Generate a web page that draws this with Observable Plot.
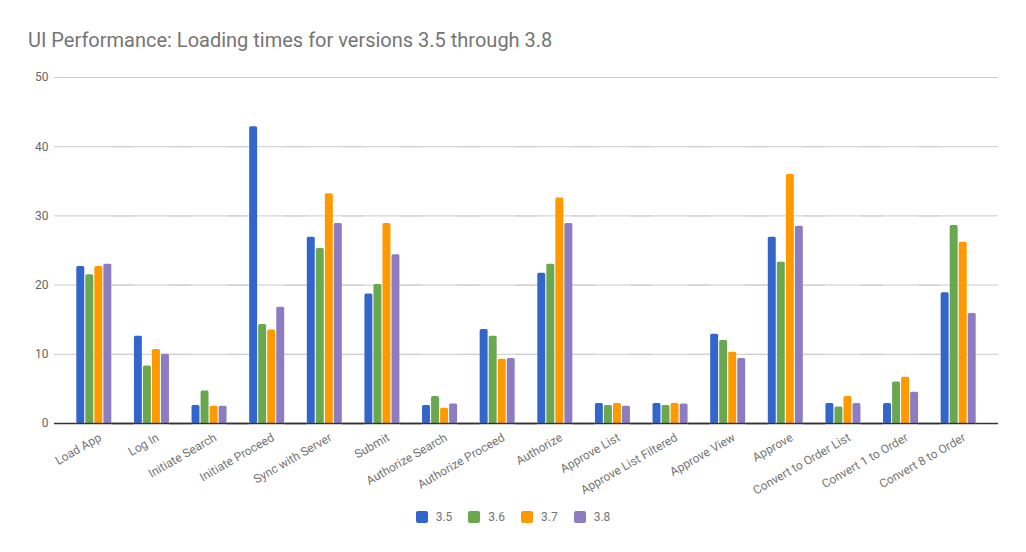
<!DOCTYPE html>
<html>
<head>
<meta charset="utf-8">
<script src="https://cdn.jsdelivr.net/npm/d3@7"></script>
<script src="https://cdn.jsdelivr.net/npm/@observablehq/plot@0.6"></script>
<style>
  html, body { margin: 0; padding: 0; background: #fff; }
  body { font-family: Roboto, "Noto Sans", sans-serif; width: 1026px; height: 552px; position: relative; overflow: hidden; }
  #title { position: absolute; left: 28px; top: 30px; font-size: 20px; line-height: 20px; color: #757575; white-space: nowrap; }
  #chart { position: absolute; left: 0; top: 60px; }
  #legend { position: absolute; left: 0; top: 511px; width: 1026px; display: flex; justify-content: center; font-size: 12px; line-height: 12px; color: #757575; }
  .item { display: flex; align-items: center; margin: 0 8px; }
  .sw { width: 12px; height: 12px; border-radius: 2px; margin-right: 8px; }
</style>
</head>
<body>
<div id="title">UI Performance: Loading times for versions 3.5 through 3.8</div>
<div id="chart"></div>
<div id="legend"></div>
<script>
const categories = ["Load App", "Log In", "Initiate Search", "Initiate Proceed", "Sync with Server", "Submit",
  "Authorize Search", "Authorize Proceed", "Authorize", "Approve List", "Approve List Filtered", "Approve View",
  "Approve", "Convert to Order List", "Convert 1 to Order", "Convert 8 to Order"];
const versions = ["3.5", "3.6", "3.7", "3.8"];
const v35 = [22.7, 12.6, 2.6, 42.9, 26.9, 18.7, 2.6, 13.6, 21.7, 2.9, 2.9, 12.9, 26.9, 2.9, 2.9, 18.9];
const v36 = [21.5, 8.3, 4.7, 14.3, 25.3, 20.1, 3.9, 12.6, 23.0, 2.6, 2.6, 12.0, 23.3, 2.4, 6.0, 28.6];
const v37 = [22.7, 10.7, 2.5, 13.5, 33.2, 28.9, 2.2, 9.3, 32.6, 2.9, 2.9, 10.3, 36.0, 3.9, 6.7, 26.2];
const v38 = [23.0, 10.0, 2.5, 16.8, 28.9, 24.4, 2.8, 9.4, 28.9, 2.5, 2.8, 9.4, 28.5, 2.9, 4.5, 15.9];
const yTicks = [0, 10, 20, 30, 40, 50];

const series = [v35, v36, v37, v38];
const rows = [];
categories.forEach((c, i) => versions.forEach((v, j) => rows.push({category: c, version: v, value: series[j][i]})));

const palette = ["#3366cc", "#6aa84f", "#ff9900", "#8e7cc3"];

const chart = Plot.plot({
  width: 1026,
  height: 440,
  marginTop: 17,
  marginBottom: 77,
  marginLeft: 65,
  marginRight: 39,
  style: {fontFamily: "Roboto, sans-serif", fontSize: "12px", background: "#fff"},
  fx: {domain: categories, padding: 0, round: false, label: null},
  x: {domain: versions, paddingInner: 0.12, paddingOuter: 0, round: false, insetLeft: 11.3, insetRight: 11.3, axis: null},
  y: {domain: [0, 50], label: null},
  color: {domain: versions, range: palette},
  marks: [
    Plot.ruleY(yTicks, {stroke: "#cccccc", strokeWidth: 1, insetLeft: -11, insetRight: -11}),
    Plot.barY(rows, {fx: "category", x: "version", y: "value", fill: "version", rx: 1.5}),
    Plot.ruleY([0], {stroke: "#333333", strokeWidth: 1.5, insetLeft: -11, insetRight: -11}),
    Plot.axisY({ticks: yTicks, tickSize: 0, tickPadding: 17, fill: "#666666", fontSize: 12, label: null}),
    Plot.axisFx({anchor: "bottom", tickRotate: -30, tickSize: 0, tickPadding: 13, dx: 6, fill: "#757575", fontSize: 12, label: null})
  ]
});
document.getElementById("chart").appendChild(chart);

const legend = document.getElementById("legend");
versions.forEach((v, i) => {
  const item = document.createElement("div");
  item.className = "item";
  const sw = document.createElement("div");
  sw.className = "sw";
  sw.style.background = palette[i];
  const t = document.createElement("span");
  t.textContent = v;
  item.appendChild(sw);
  item.appendChild(t);
  legend.appendChild(item);
});
</script>
</body>
</html>
